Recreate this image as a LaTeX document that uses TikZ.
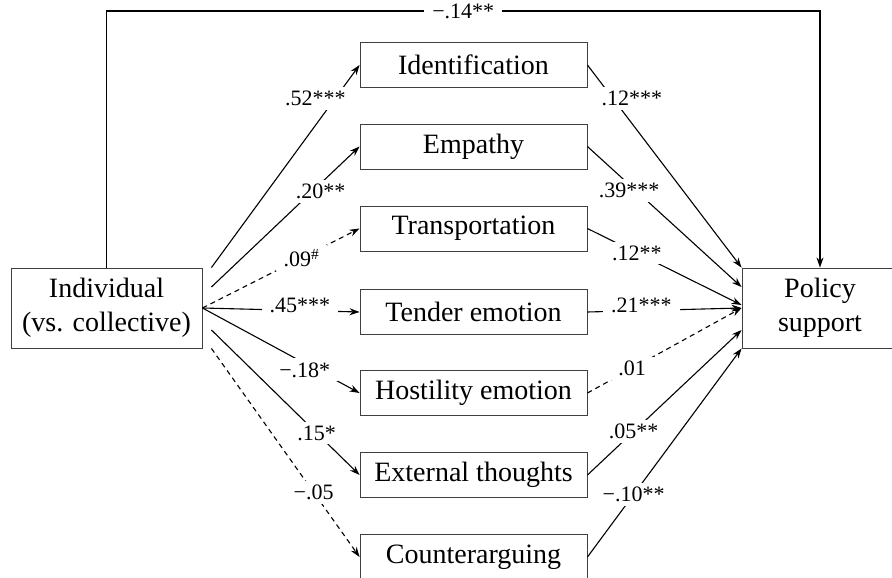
\documentclass[tikz,border=0pt]{standalone}
\usepackage{fontspec}
\setmainfont{Liberation Serif}
\usetikzlibrary{arrows.meta}

\begin{document}
\begin{tikzpicture}[
    x=1pt, y=-1pt,
    var/.style={rectangle, draw=black!75, line width=0.9pt, minimum width=227pt, minimum height=45pt, inner sep=0pt, font=\fontsize{28}{34}\selectfont},
    outer/.style={var, minimum height=80pt, align=center},
    coef/.style={fill=white, inner xsep=8pt, inner ysep=4pt, font=\fontsize{22}{26}\selectfont},
    link/.style={-{Stealth[length=10pt, width=7pt]}, line width=1.1pt},
    nslink/.style={link, dash pattern=on 5pt off 4pt}
]
    \useasboundingbox (0,0) rectangle (892,578);

    % Predictor and outcome
    \node[outer, minimum width=191pt] (indiv) at (106.5,308) {Individual\\(vs. collective)};
    \node[outer, minimum width=156pt] (policy) at (820,308) {Policy\\support};

    % Mediators
    \node[var] (ident) at (473.5,65) {Identification};
    \node[var] (empathy) at (473.5,146.5) {Empathy};
    \node[var] (transp) at (473.5,228.5) {Transportation};
    \node[var] (tender) at (473.5,312) {Tender emotion};
    \node[var] (hostil) at (473.5,393) {Hostility emotion};
    \node[var] (extern) at (473.5,475) {External thoughts};
    \node[var] (counter) at (473.5,557) {Counterarguing};

    % Direct effect
    \coordinate (topline) at (0,11);
    \draw[link] (indiv.north) -- (indiv.north |- topline) -- node[coef] {−.14**} (policy.north |- topline) -- (policy.north);

    % a paths
    \draw[link] ([xshift=9pt]indiv.north east) -- node[coef, pos=.79, shift={(-13,-9)}] {.52***} (ident.west);
    \draw[link] ([shift={(9,-21)}]indiv.east) -- node[coef, pos=.71, shift={(4,4)}] {.20**} (empathy.west);
    \draw[nslink] (indiv.east) -- node[coef, pos=.63] {.09\textsuperscript{\#}} (transp.west);
    \draw[link] (indiv.east) -- node[coef, pos=.62, shift={(0,-5)}] {.45***} (tender.west);
    \draw[link] (indiv.east) -- node[coef, pos=.67, shift={(-3,5)}] {−.18*} (hostil.west);
    \draw[link] ([shift={(9,22)}]indiv.east) -- node[coef, pos=.71] {.15*} (extern.west);
    \draw[nslink] ([xshift=9pt]indiv.south east) -- node[coef, pos=.69] {−.05} (counter.west);

    % b paths
    \draw[link] (ident.east) -- node[coef, pos=.21, shift={(12,-9)}] {.12***} (policy.north west);
    \draw[link] (empathy.east) -- node[coef, pos=.29, shift={(-3,3)}] {.39***} ([yshift=21pt]policy.west);
    \draw[link] (transp.east) -- node[coef, pos=.32] {.12**} ([yshift=3pt]policy.west);
    \draw[link] (tender.east) -- node[coef, pos=.35, shift={(0,-5)}] {.21***} (policy.west);
    \draw[nslink] (hostil.east) -- node[coef, pos=.29] {.01} (policy.west);
    \draw[link] (extern.east) -- node[coef, pos=.3] {.05**} ([yshift=-22pt]policy.west);
    \draw[link] (counter.east) -- node[coef, pos=.3] {−.10**} (policy.south west);
\end{tikzpicture}
\end{document}
